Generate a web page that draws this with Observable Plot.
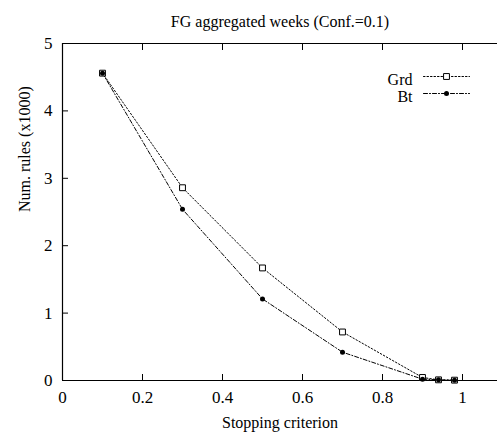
<!DOCTYPE html>
<html>
<head>
<meta charset="utf-8">
<script src="https://cdn.jsdelivr.net/npm/d3@7"></script>
<script src="https://cdn.jsdelivr.net/npm/@observablehq/plot@0.6"></script>
<style>
  html, body { margin: 0; padding: 0; background: #fff; }
</style>
</head>
<body>
<div id="chart"></div>
<script>
const title = "FG aggregated weeks (Conf.=0.1)";
const xLabel = "Stopping criterion";
const yLabel = "Num. rules (x1000)";
const criterion = [0.1, 0.3, 0.5, 0.7, 0.9, 0.94, 0.98];
const grd = [4.56, 2.86, 1.67, 0.72, 0.045, 0.01, 0.005];
const bt = [4.56, 2.54, 1.21, 0.42, 0.02, 0.01, 0.005];
const xTicks = [0, 0.2, 0.4, 0.6, 0.8, 1];
const yTicks = [0, 1, 2, 3, 4, 5];
const seriesNames = ["Grd", "Bt"];

const grdData = criterion.map((c, i) => ({x: c, y: grd[i]}));
const btData = criterion.map((c, i) => ({x: c, y: bt[i]}));

const font = "'Liberation Serif', 'Times New Roman', serif";
const fs = 17;
const noText = () => "";
const lineShape = {draw(context, l) { context.moveTo(0, 0); context.lineTo(0, -l); }};
const grdDash = "1.5,2";
const btDash = "4,2,1,2";

const chart = Plot.plot({
  width: 497,
  height: 436,
  marginLeft: 62,
  marginRight: 0,
  marginTop: 43,
  marginBottom: 56,
  style: {fontFamily: font, fontSize: fs + "px", color: "#000", background: "#fff"},
  x: {domain: [0, 1.0875], label: null},
  y: {domain: [0, 5], label: null},
  marks: [
    // frame lines
    Plot.ruleX([0], {stroke: "#000", strokeWidth: 1.2}),
    Plot.ruleY([0, 5], {stroke: "#000", strokeWidth: 1.2}),
    // inward ticks
    Plot.axisX({anchor: "bottom", ticks: xTicks, tickSize: 0, tickPadding: 10, tickFormat: d => String(d), fontSize: fs}),
    Plot.axisX({anchor: "bottom", ticks: xTicks, tickSize: -6, tickFormat: noText}),
    Plot.axisX({anchor: "top", ticks: xTicks, tickSize: -6, tickFormat: noText}),
    Plot.axisY({anchor: "left", ticks: yTicks, tickSize: 0, tickPadding: 10, tickFormat: d => String(d), fontSize: fs}),
    Plot.axisY({anchor: "left", ticks: yTicks, tickSize: -6, tickFormat: noText}),
    // series
    Plot.line(grdData, {x: "x", y: "y", stroke: "#000", strokeWidth: 1, strokeDasharray: grdDash}),
    Plot.line(btData, {x: "x", y: "y", stroke: "#000", strokeWidth: 1, strokeDasharray: btDash}),
    Plot.dot(grdData, {x: "x", y: "y", symbol: "square", r: 3.3, stroke: "#000", fill: "#fff", strokeWidth: 1}),
    Plot.dot(btData, {x: "x", y: "y", symbol: "circle", r: 2.5, fill: "#000", stroke: "none"}),
    // legend
    Plot.text([seriesNames[0]], {frameAnchor: "top-right", dx: -85, dy: 30, textAnchor: "end", fontSize: 16, fontFamily: font}),
    Plot.text([seriesNames[1]], {frameAnchor: "top-right", dx: -85, dy: 47, textAnchor: "end", fontSize: 16, fontFamily: font}),
    Plot.vector([0], {frameAnchor: "top-right", dx: -74, dy: 33, rotate: 90, length: 46, anchor: "start", shape: lineShape, stroke: "#000", strokeWidth: 1, strokeDasharray: grdDash}),
    Plot.vector([0], {frameAnchor: "top-right", dx: -74, dy: 50, rotate: 90, length: 46, anchor: "start", shape: lineShape, stroke: "#000", strokeWidth: 1, strokeDasharray: btDash}),
    Plot.dot([0], {frameAnchor: "top-right", dx: -51, dy: 33, symbol: "square", r: 3.3, stroke: "#000", fill: "#fff", strokeWidth: 1}),
    Plot.dot([0], {frameAnchor: "top-right", dx: -51, dy: 50, symbol: "circle", r: 2.5, fill: "#000", stroke: "none"}),
    // titles
    Plot.text([title], {frameAnchor: "top", dy: -28, fontSize: fs - 1, fontFamily: font}),
    Plot.text([xLabel], {frameAnchor: "bottom", dy: 47, fontSize: fs - 1, fontFamily: font}),
    Plot.text([yLabel], {frameAnchor: "left", dx: -38, rotate: -90, fontSize: fs - 1, fontFamily: font})
  ]
});
document.getElementById("chart").appendChild(chart);
</script>
</body>
</html>
